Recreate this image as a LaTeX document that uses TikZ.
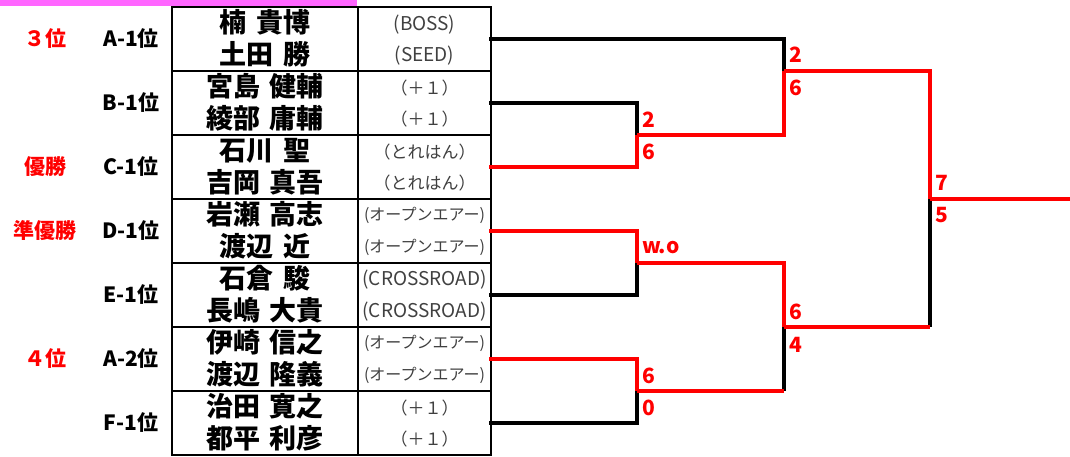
\documentclass[tikz,border=0pt]{standalone}
\usepackage{fontspec}
\setmainfont{Noto Sans CJK JP}
\definecolor{mag}{HTML}{FF66FF}
\definecolor{tgray}{HTML}{404040}
\definecolor{bred}{HTML}{FF0000}
\newcommand\jsp{\hspace{.35em}}
\tikzset{
 namet/.style={inner sep=0pt, text height=22.7pt, text depth=3.2pt, font=\fontsize{27}{30}\selectfont\bfseries},
 teamt/.style={inner sep=0pt, text height=14.3pt, text depth=2pt, font=\fontsize{17}{19}\selectfont, text=tgray},
 teaml/.style={inner sep=0pt, text height=16pt, text depth=2.3pt, font=\fontsize{19}{21}\selectfont, text=tgray},
 teams/.style={inner sep=0pt, text height=13.4pt, text depth=1.9pt, font=\fontsize{16}{18}\selectfont, text=tgray},
 seedt/.style={inner sep=0pt, text height=17.6pt, text depth=2.5pt, font=\fontsize{21}{24}\selectfont\bfseries},
 rankt/.style={inner sep=0pt, text height=17.6pt, text depth=2.5pt, font=\fontsize{21}{24}\selectfont\bfseries, text=bred},
 score/.style={inner sep=0pt, text height=17.6pt, text depth=2.5pt, anchor=west, font=\fontsize{21}{24}\selectfont\bfseries, text=bred},
 gridl/.style={line width=2pt, black},
 bk/.style={line width=3.5pt, black},
 rd/.style={line width=3.5pt, bred},
}
\begin{document}
\begin{tikzpicture}[x=1pt,y=-1pt]
\useasboundingbox (0,0) rectangle (1070,456);
\fill[mag] (0,0) rectangle (357,6);
% table
\draw[gridl] (172,7) rectangle (491,455);
\draw[gridl] (358,7) -- (358,455);
\foreach \r in {71,135,199,263,327,391}{
  \draw[gridl] (172,\r) -- (491,\r);
}
% names
\node[namet] (n1) at (265,23) {楠\jsp 貴博};
\node[namet] (n2) at (265,55) {土田\jsp 勝};
\node[namet] (n3) at (265,87) {宮島\jsp 健輔};
\node[namet] (n4) at (265,119) {綾部\jsp 庸輔};
\node[namet] (n5) at (265,151) {石川\jsp 聖};
\node[namet] (n6) at (265,183) {吉岡\jsp 真吾};
\node[namet] (n7) at (265,215) {岩瀬\jsp 高志};
\node[namet] (n8) at (265,247) {渡辺\jsp 近};
\node[namet] (n9) at (265,279) {石倉\jsp 駿};
\node[namet] (n10) at (265,311) {長嶋\jsp 大貴};
\node[namet] (n11) at (265,343) {伊崎\jsp 信之};
\node[namet] (n12) at (265,375) {渡辺\jsp 隆義};
\node[namet] (n13) at (265,407) {治田\jsp 寛之};
\node[namet] (n14) at (265,439) {都平\jsp 利彦};
% teams
\node[teaml] (t1) at (424.5,24) {(BOSS)};
\node[teaml] (t2) at (424.5,55) {(SEED)};
\node[teamt] (t3) at (424.5,88) {（＋１）};
\node[teamt] (t4) at (424.5,119) {（＋１）};
\node[teamt] (t5) at (424.5,152) {（とれはん）};
\node[teamt] (t6) at (424.5,183) {（とれはん）};
\node[teams] (t7) at (424.5,215) {(オープンエアー)};
\node[teams] (t8) at (424.5,247) {(オープンエアー)};
\node[teaml] (t9) at (424.5,279) {(CROSSROAD)};
\node[teaml] (t10) at (424.5,311) {(CROSSROAD)};
\node[teams] (t11) at (424.5,343) {(オープンエアー)};
\node[teams] (t12) at (424.5,375) {(オープンエアー)};
\node[teamt] (t13) at (424.5,408) {（＋１）};
\node[teamt] (t14) at (424.5,439) {（＋１）};
% seeds
\node[seedt] (s1) at (131,39) {A-1位};
\node[seedt] (s2) at (131,103) {B-1位};
\node[seedt] (s3) at (131,167) {C-1位};
\node[seedt] (s4) at (131,231) {D-1位};
\node[seedt] (s5) at (131,295) {E-1位};
\node[seedt] (s6) at (131,359) {A-2位};
\node[seedt] (s7) at (131,423) {F-1位};
% ranks
\node[rankt] (k1) at (45,39) {３位};
\node[rankt] (k2) at (45,167) {優勝};
\node[rankt] (k3) at (45,231) {準優勝};
\node[rankt] (k4) at (45,359) {４位};
% bracket coordinates
\coordinate (e1) at (489,39);
\coordinate (e2) at (489,103);
\coordinate (e3) at (489,167);
\coordinate (e4) at (489,231);
\coordinate (e5) at (489,295);
\coordinate (e6) at (489,359);
\coordinate (e7) at (489,423);
\coordinate (m1) at (637,135);
\coordinate (m2) at (637,263);
\coordinate (m3) at (637,391);
\coordinate (c3) at (784,391);
\coordinate (q1) at (784,71);
\coordinate (q2) at (784,327);
\coordinate (cq2) at (930,327);
\coordinate (f) at (930,199);
\coordinate (fin) at (1070,199);
% round 1
\draw[bk] (e2) -| (m1);
\draw[rd] (e3) -| (m1);
\draw[rd] (e4) -| (m2);
\draw[bk] (e5) -| (m2);
\draw[rd] (e6) -| (m3);
\draw[bk] (e7) -| (m3);
% round 2
\draw[bk] (e1) -| (q1);
\draw[rd] (m1) -| (q1);
\draw[rd] (m2) -| (q2);
\draw[bk] (c3) -- (q2);
\draw[rd] (m3) -- (c3);
% round 3
\draw[bk] (cq2) -- (f);
\draw[rd] (q2) -- (cq2);
\draw[rd] (q1) -| (f);
\draw[rd] (f) -- (fin);
% scores
\node[score] (sc1) at (642,120) {2};
\node[score] (sc2) at (642,152) {6};
\node[score] (sc3) at (642,246) {w.o};
\node[score] (sc4) at (642,376) {6};
\node[score] (sc5) at (642,408) {0};
\node[score] (sc6) at (789,55) {2};
\node[score] (sc7) at (789,88) {6};
\node[score] (sc8) at (789,312) {6};
\node[score] (sc9) at (789,345) {4};
\node[score] (sc10) at (935,183) {7};
\node[score] (sc11) at (935,215) {5};
\end{tikzpicture}
\end{document}
